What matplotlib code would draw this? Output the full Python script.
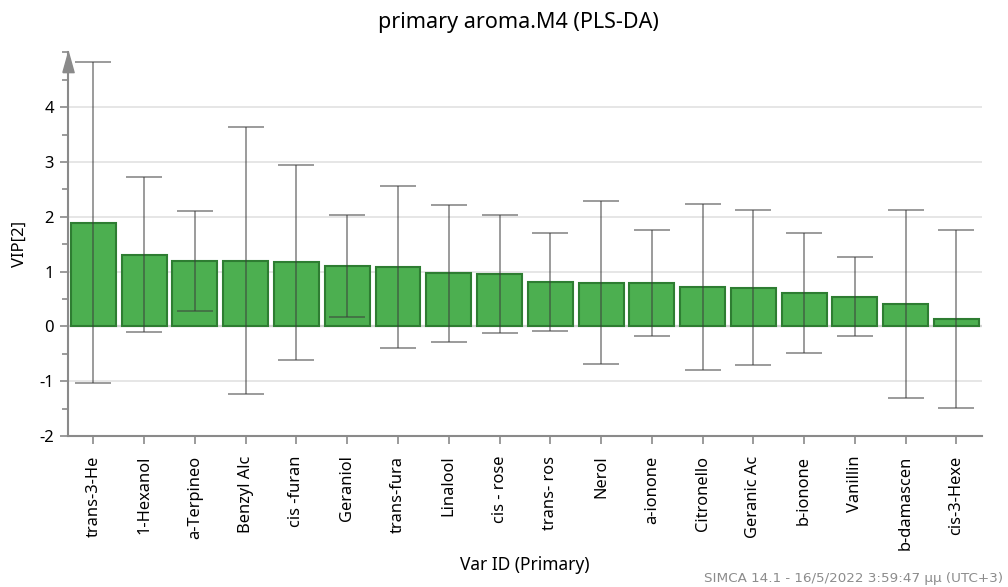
import numpy as np
import matplotlib
matplotlib.use('Agg')
import matplotlib.pyplot as plt
from matplotlib.ticker import MultipleLocator

plt.rcParams['font.family'] = ['Noto Sans', 'DejaVu Sans']

# VIP values of component 2 with jack-knife half widths
variables = ['trans-3-He', '1-Hexanol', 'a-Terpineo', 'Benzyl Alc', 'cis -furan',
             'Geraniol', 'trans-fura', 'Linalool', 'cis - rose', 'trans- ros',
             'Nerol', 'a-ionone', 'Citronello', 'Geranic Ac', 'b-ionone',
             'Vanillin', 'b-damascen', 'cis-3-Hexe']
vip = [1.89, 1.31, 1.20, 1.20, 1.17, 1.11, 1.08, 0.97, 0.96, 0.81,
       0.80, 0.79, 0.72, 0.71, 0.61, 0.54, 0.41, 0.13]
ci = [2.93, 1.42, 0.91, 2.43, 1.78, 0.93, 1.48, 1.25, 1.08, 0.89,
      1.49, 0.97, 1.52, 1.42, 1.09, 0.72, 1.72, 1.62]

axis_grey = '#8a8a8a'

fig = plt.figure(figsize=(10.08, 5.87), dpi=100)
ax = fig.add_axes([0.0675, 0.257, 0.9065, 0.654])

x = np.arange(len(variables))
ax.bar(x, vip, width=0.885, color='#4caf50', edgecolor='#2e7d32', linewidth=1.5, zorder=2)
ax.errorbar(x, vip, yerr=ci, fmt='none', ecolor='#3c3c3c', alpha=0.6,
            elinewidth=1.2, capsize=13, capthick=1.2, zorder=3)

ax.set_xlim(-0.5, len(variables) - 0.5)
ax.set_ylim(-2, 5.0)
ax.yaxis.set_major_locator(MultipleLocator(1))
ax.yaxis.set_minor_locator(MultipleLocator(0.5))
ax.set_yticks(range(-2, 5))
ax.set_yticklabels([str(v) for v in range(-2, 5)])
ax.grid(axis='y', which='major', color='#e2e2e2', linewidth=1.2, zorder=0)
ax.axhline(0, color=axis_grey, linewidth=1.5, zorder=1)

ax.set_xticks(x)
ax.set_xticklabels(variables, rotation=90, fontsize=11.8)
ax.tick_params(axis='x', length=6, width=1.2, color=axis_grey, pad=8)
ax.tick_params(axis='y', which='major', length=6, width=1.2, color=axis_grey, labelsize=12, pad=4)
ax.tick_params(axis='y', which='minor', length=4, width=1.2, color=axis_grey)

for side in ['top', 'right']:
    ax.spines[side].set_visible(False)
for side in ['left', 'bottom']:
    ax.spines[side].set_color(axis_grey)
    ax.spines[side].set_linewidth(1.5)

# arrow head on the y axis
head = [(-0.28, -1), (0.28, -1), (0, 0), (-0.28, -1)]
ax.plot([0], [1], marker=head, markersize=29, color=axis_grey, transform=ax.transAxes,
        clip_on=False, zorder=5)

ax.set_ylabel('VIP[2]', fontsize=12, labelpad=8)
ax.set_xlabel('Var ID (Primary)', fontsize=12.5, labelpad=4)
fig.suptitle('primary aroma.M4 (PLS-DA)', fontsize=15.5, x=0.514, y=0.98)

fig.text(0.995, 0.003, 'SIMCA 14.1 - 16/5/2022 3:59:47 μμ (UTC+3)', ha='right', va='bottom',
         fontsize=9.7, color='#8c8c8c', family=['Liberation Sans Narrow', 'DejaVu Sans'])

fig.savefig('out.png', dpi=100)
